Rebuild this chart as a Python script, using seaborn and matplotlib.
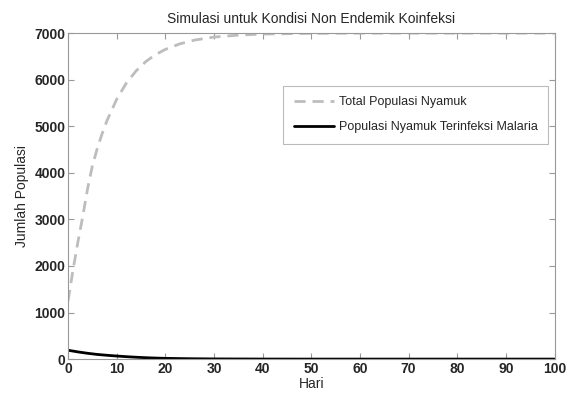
import numpy as np
import pandas as pd
import matplotlib
matplotlib.use("Agg")
import matplotlib.pyplot as plt
import seaborn as sns

# values
hari_total = [0, 1, 2, 3, 4, 5, 6, 7, 8, 10, 12, 14, 16, 18, 20, 23, 26, 30, 35, 40, 50, 60, 70, 80, 90, 100]
total_nyamuk = [1250, 1900, 2500, 3050, 3650, 4150, 4520, 4840, 5120, 5580, 5930, 6190, 6390, 6540, 6650,
                6770, 6850, 6915, 6957, 6980, 6995, 7000, 7000, 7000, 7000, 7000]

hari_inf = [0, 2, 4, 6, 8, 10, 12, 14, 16, 18, 20, 25, 30, 40, 50, 60, 70, 80, 90, 100]
nyamuk_malaria = [190, 155, 125, 100, 82, 66, 52, 40, 30, 22, 16, 8, 4, 1, 0, 0, 0, 0, 0, 0]

df_total = pd.DataFrame({"Hari": hari_total, "Populasi": total_nyamuk})
df_inf = pd.DataFrame({"Hari": hari_inf, "Populasi": nyamuk_malaria})

sns.set_style("white")
plt.rcParams['font.family'] = ['Liberation Sans', 'DejaVu Sans']

fig = plt.figure(figsize=(5.67, 3.99), dpi=100)
ax = fig.add_axes([0.12, 0.10, 0.858, 0.817])

sns.lineplot(data=df_total, x="Hari", y="Populasi", ax=ax, color="#bdbdbd",
             linewidth=2, linestyle=(0, (4, 2.5)), label="Total Populasi Nyamuk")
sns.lineplot(data=df_inf, x="Hari", y="Populasi", ax=ax, color="black",
             linewidth=2, label="Populasi Nyamuk Terinfeksi Malaria")

ax.set_xlim(0, 100)
ax.set_ylim(0, 7000)
ax.set_xticks(range(0, 101, 10))
ax.set_yticks(range(0, 7001, 1000))
ax.tick_params(direction="in", length=4, color="#999999", labelsize=10, pad=2,
               top=True, right=True, bottom=True, left=True)
for lab in ax.get_xticklabels() + ax.get_yticklabels():
    lab.set_fontweight("bold")
for sp in ax.spines.values():
    sp.set_color("#999999")
    sp.set_linewidth(0.8)

ax.set_xlabel("Hari", fontsize=10, labelpad=1)
ax.set_ylabel("Jumlah Populasi", fontsize=10, labelpad=4)
ax.set_title("Simulasi untuk Kondisi Non Endemik Koinfeksi", fontsize=10, pad=7)

leg = ax.legend(loc="upper right", bbox_to_anchor=(0.995, 0.85), fontsize=9,
                frameon=True, fancybox=False, handlelength=3.2, handletextpad=0.4,
                borderpad=0.85, borderaxespad=0.3, labelspacing=1.0)
leg.get_frame().set_edgecolor("#aaaaaa")
leg.get_frame().set_linewidth(0.8)

fig.savefig("out.png", dpi=100)
